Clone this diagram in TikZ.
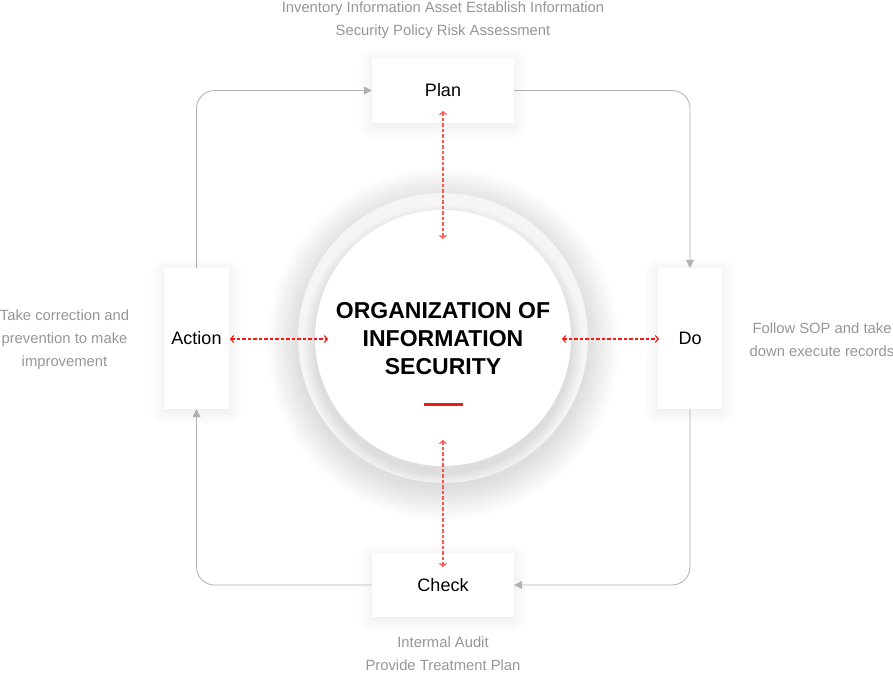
\documentclass[tikz,border=0pt]{standalone}
\usepackage{fontspec}
\setmainfont{Liberation Sans}
\usetikzlibrary{arrows.meta,shadows.blur}
\definecolor{txtgray}{RGB}{150,150,150}
\definecolor{conngray}{RGB}{176,176,176}
\definecolor{dashred}{RGB}{255,20,15}
\definecolor{dashpink}{RGB}{255,85,80}
\definecolor{barred}{RGB}{230,30,25}
\definecolor{ringgray}{RGB}{245,245,245}
\begin{document}
\begin{tikzpicture}[x=1pt,y=-1pt,
  stepbox/.style={fill=white, inner sep=0pt,
    blur shadow={shadow xshift=0pt, shadow yshift=-3pt, shadow blur radius=14pt, shadow blur steps=25, shadow opacity=9},
    font=\fontsize{18}{18}\selectfont},
  note/.style={text=txtgray, align=center, font=\fontsize{14.8}{23}\selectfont},
  conn/.style={draw=conngray, line width=0.8pt, rounded corners=18pt,
    -{Triangle[length=8pt,width=8pt]}},
  link/.style={draw=dashred, line width=1.1pt, dash pattern=on 3.5pt off 2pt,
    {Straight Barb[length=3pt,width=7pt]}-{Straight Barb[length=3pt,width=7pt]}},
  vlink/.style={link, draw=dashpink}
]
\useasboundingbox (0,0) rectangle (893,672);

% soft shadow around the outer ring
\foreach \r in {146,148,...,176}{
  \fill[black, opacity=0.006] (443,344) circle (\r);
}
% central circles
\node[circle, fill=ringgray, minimum size=290pt, inner sep=0pt] (outer) at (443,338) {};
\foreach \r in {129,130,...,140}{
  \fill[black, opacity=0.007] (443,345) circle (\r);
}
\node[circle, fill=white, minimum size=256pt, inner sep=0pt] (inner) at (443,338) {};
\node[align=center, font=\bfseries\fontsize{23}{28}\selectfont] (title) at (443,339) {ORGANIZATION OF\\INFORMATION\\SECURITY};
\node[fill=barred, minimum width=39pt, minimum height=3pt, inner sep=0pt] (bar) at (443.5,404.5) {};

% step boxes
\node[stepbox, minimum width=142pt, minimum height=65pt] (plan) at (443,90.5) {Plan};
\node[stepbox, minimum width=65pt, minimum height=141pt] (action) at (196.5,338.5) {Action};
\node[stepbox, minimum width=64pt, minimum height=141pt] (do) at (690,338.5) {Do};
\node[stepbox, minimum width=142pt, minimum height=64pt] (check) at (443,585) {Check};

% cycle connectors
\draw[conn] (plan.east) -| (do.north);
\draw[conn] (do.south) |- (check.east);
\draw[conn] (check.west) -| (action.south);
\draw[conn] (action.north) |- (plan.west);

% red dashed links
\coordinate (p1) at (443,111); \coordinate (p2) at (443,239);
\coordinate (c1) at (443,440); \coordinate (c2) at (443,567);
\coordinate (a1) at (230,339); \coordinate (a2) at (328,339);
\coordinate (d1) at (562,339); \coordinate (d2) at (659,339);
\draw[vlink] (p1) -- (p2);
\draw[vlink] (c1) -- (c2);
\draw[link] (a1) -- (a2);
\draw[link] (d1) -- (d2);

% notes
\node[note] (ntop) at (443,20) {Inventory Information Asset Establish Information\\Security Policy Risk Assessment};
\node[note] (nleft) at (64.5,339.5) {Take correction and\\prevention to make\\improvement};
\node[note] (nright) at (822,339.5) {Follow SOP and take\\down execute records};
\node[note] (nbottom) at (443,654) {Intermal Audit\\Provide Treatment Plan};
\end{tikzpicture}
\end{document}
